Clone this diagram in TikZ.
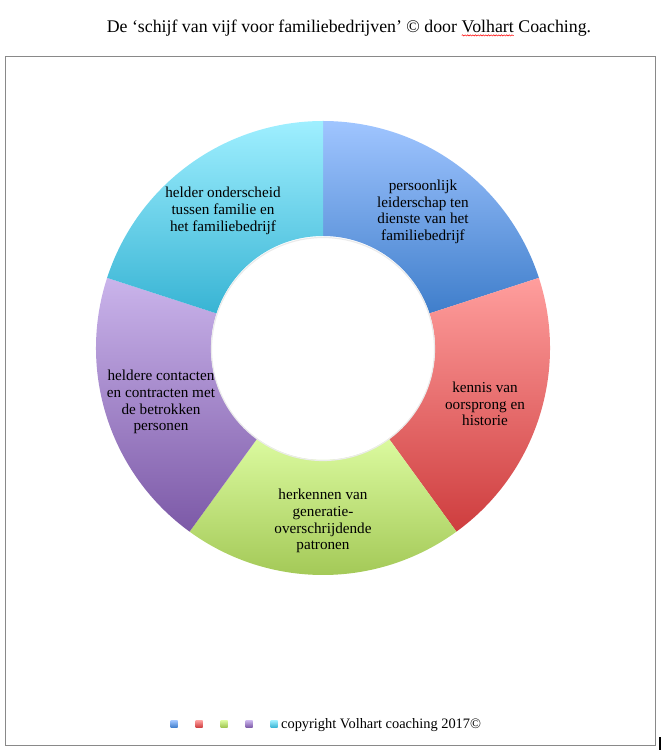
\documentclass[tikz,border=0pt]{standalone}
\usepackage{fontspec}
\setmainfont{Liberation Serif}
\usepackage{xcolor}
\usetikzlibrary{positioning, calc, decorations.pathmorphing}

% kleuren van de schijf (boven / onder)
\definecolor{blauwBoven}{HTML}{A0C5FF}
\definecolor{blauwOnder}{HTML}{3F7ECB}
\definecolor{roodBoven}{HTML}{FF9E9D}
\definecolor{roodOnder}{HTML}{CE3D3E}
\definecolor{groenBoven}{HTML}{DBFA9F}
\definecolor{groenOnder}{HTML}{9EC450}
\definecolor{paarsBoven}{HTML}{CAB4EB}
\definecolor{paarsOnder}{HTML}{7C59A7}
\definecolor{cyaanBoven}{HTML}{9FEFFF}
\definecolor{cyaanOnder}{HTML}{38B4D4}
\definecolor{kader}{HTML}{898989}

% rode kronkel onder een woord
\newcommand{\kronkel}[1]{\tikz[baseline=(w.base)]{\node[inner sep=0pt, outer sep=0pt] (w) {#1};
  \draw[red, line width=0.5pt, decorate, decoration={snake, amplitude=0.6pt, segment length=2.6pt}]
    ([yshift=-2.4pt]w.base west) -- ([yshift=-2.4pt]w.base east);}}

\begin{document}
\begin{tikzpicture}[x=1pt, y=1pt,
  label/.style={align=center, text=black, font=\fontsize{15.2}{16.7}\selectfont},
  vakje/.style={minimum size=7pt, inner sep=0pt}]
\useasboundingbox (0,0) rectangle (662,750);

% kader en titel
\draw[kader, line width=1pt] (5,4) rectangle (655,693);
\node[anchor=base, font=\fontsize{17.8}{20}\selectfont] (titel) at (349,717)
  {De ‘schijf van vijf voor familiebedrijven’ © door \kronkel{Volhart} Coaching.};
\draw[black, line width=1.5pt] (660,0) -- (660,13);

% de schijf
\coordinate (m) at (323,402);
\shade[top color=blauwBoven, bottom color=blauwOnder]
  ([shift={(90:227pt)}]m) arc[start angle=90, end angle=18, radius=227pt]
  -- ([shift={(18:112pt)}]m) arc[start angle=18, end angle=90, radius=112pt] -- cycle;
\shade[top color=roodBoven, bottom color=roodOnder]
  ([shift={(18:227pt)}]m) arc[start angle=18, end angle=-54, radius=227pt]
  -- ([shift={(-54:112pt)}]m) arc[start angle=-54, end angle=18, radius=112pt] -- cycle;
\shade[top color=groenBoven, bottom color=groenOnder]
  ([shift={(-54:227pt)}]m) arc[start angle=-54, end angle=-126, radius=227pt]
  -- ([shift={(-126:112pt)}]m) arc[start angle=-126, end angle=-54, radius=112pt] -- cycle;
\shade[top color=paarsBoven, bottom color=paarsOnder]
  ([shift={(-126:227pt)}]m) arc[start angle=-126, end angle=-198, radius=227pt]
  -- ([shift={(-198:112pt)}]m) arc[start angle=-198, end angle=-126, radius=112pt] -- cycle;
\shade[top color=cyaanBoven, bottom color=cyaanOnder]
  ([shift={(162:227pt)}]m) arc[start angle=162, end angle=90, radius=227pt]
  -- ([shift={(90:112pt)}]m) arc[start angle=90, end angle=162, radius=112pt] -- cycle;
\draw[black!8, line width=1.2pt] ([yshift=-1pt]m) circle (111.5pt);

% teksten in de schijf
\node[label] (leiderschap) at (423,538) {persoonlijk\\leiderschap ten\\dienste van het\\familiebedrijf};
\node[label] (historie) at (485,346) {kennis van\\oorsprong en\\historie};
\node[label] (patronen) at (323,229) {herkennen van\\generatie-\\overschrijdende\\patronen};
\node[label] (contacten) at (161,348) {heldere contacten\\en contracten met\\de betrokken\\personen};
\node[label] (onderscheid) at (223,539) {helder onderscheid\\tussen familie en\\het familiebedrijf};

% legenda
\node[vakje, top color=blauwBoven, bottom color=blauwOnder] (l1) at (174,26) {};
\node[vakje, top color=roodBoven, bottom color=roodOnder] (l2) at (199,26) {};
\node[vakje, top color=groenBoven, bottom color=groenOnder] (l3) at (224,26) {};
\node[vakje, top color=paarsBoven, bottom color=paarsOnder] (l4) at (249,26) {};
\node[vakje, top color=cyaanBoven, bottom color=cyaanOnder] (l5) at (274,26) {};
\node[anchor=base west, inner sep=0pt, font=\fontsize{14.4}{17}\selectfont] (copyright) at (281,21)
  {copyright Volhart coaching 2017©};
\end{tikzpicture}
\end{document}
